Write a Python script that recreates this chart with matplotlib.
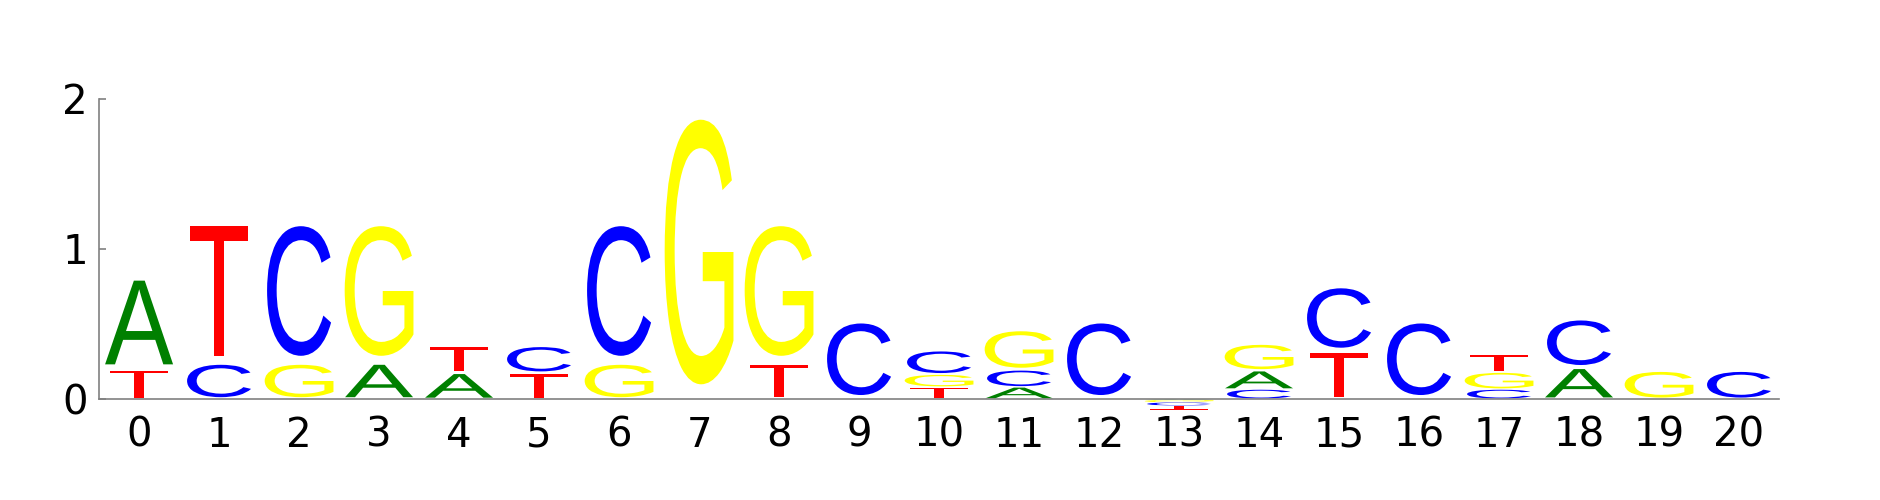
import matplotlib
matplotlib.use('Agg')
import matplotlib.pyplot as plt
from matplotlib.textpath import TextPath
from matplotlib.patches import PathPatch
from matplotlib.font_manager import FontProperties
from matplotlib.transforms import Affine2D

# information per position (bits)
positions = list(range(21))
A = [0.62, 0, 0, 0.24, 0.175, 0, 0, 0, 0, 0, 0, 0.08, 0, -0.006, 0.125, 0, 0, 0, 0.21, 0, 0]
C = [0, 0.24, 0.96, 0, 0, 0.18, 0.96, 0, 0, 0.53, 0.16, 0.115, 0.53, -0.022, 0.065, 0.44, 0.53, 0.065, 0.33, 0, 0.19]
G = [0, 0, 0.24, 0.96, 0, 0, 0.24, 1.96, 0.96, 0, 0.085, 0.27, 0, -0.016, 0.18, 0, 0, 0.115, 0, 0.19, 0]
T = [0.2, 0.96, 0, 0, 0.18, 0.175, 0, 0, 0.24, 0, 0.08, 0, 0, -0.03, 0, 0.32, 0, 0.12, 0, 0, 0]

colors = {'A': 'green', 'C': 'blue', 'G': 'yellow', 'T': 'red'}
widths = {'A': 0.85, 'C': 0.80, 'G': 0.86, 'T': 0.73}
vpad = 0.1
fp = FontProperties(family='Liberation Sans')


def draw_letter(ax, ch, x, bottom, h, flip=False):
    path = TextPath((0, 0), ch, size=1, prop=fp)
    ext = path.get_extents()
    w = widths[ch]
    pad = vpad * h / 2
    hh = h - 2 * pad
    t = Affine2D().translate(-ext.x0, -ext.y0).scale(w / ext.width, hh / ext.height)
    if flip:
        t = t.scale(1, -1).translate(0, hh)
    t = t.translate(x - w / 2, bottom + pad)
    patch = PathPatch(t.transform_path(path), fc=colors[ch], ec='none', clip_on=False)
    ax.add_patch(patch)


fig = plt.figure(figsize=(18.8, 5), dpi=100)
ax = fig.add_axes([0.0527, 0.172, 0.8936, 0.63])

data = {'A': A, 'C': C, 'G': G, 'T': T}
for i in positions:
    vals = [(data[k][i], k) for k in 'ACGT']
    pos = sorted([v for v in vals if v[0] > 0])
    neg = sorted([v for v in vals if v[0] < 0], reverse=True)
    y = 0
    for v, k in pos:
        draw_letter(ax, k, i, y, v)
        y += v
    y = 0
    for v, k in neg:
        draw_letter(ax, k, i, y + v, -v, flip=True)
        y += v

for s in ['top', 'right']:
    ax.spines[s].set_visible(False)
ax.spines['left'].set_bounds(0, 2)
ax.spines['bottom'].set_position(('data', 0))
for s in ['left', 'bottom']:
    ax.spines[s].set_color('gray')
    ax.spines[s].set_linewidth(1.2)

ax.set_xlim(-0.5, 20.5)
ax.set_ylim(-0.1, 2.0)
ax.set_xticks(positions)
ax.set_xticklabels([str(p) for p in positions], fontsize=29, family='DejaVu Sans')
ax.set_yticks([0, 1, 2])
ax.set_yticklabels(['0', '1', '2'], fontsize=29, family='DejaVu Sans')
ax.tick_params(axis='x', length=0, pad=12)
ax.tick_params(axis='y', direction='in', length=5, width=1.2, color='gray', pad=8)

fig.savefig('out.png', dpi=100)
